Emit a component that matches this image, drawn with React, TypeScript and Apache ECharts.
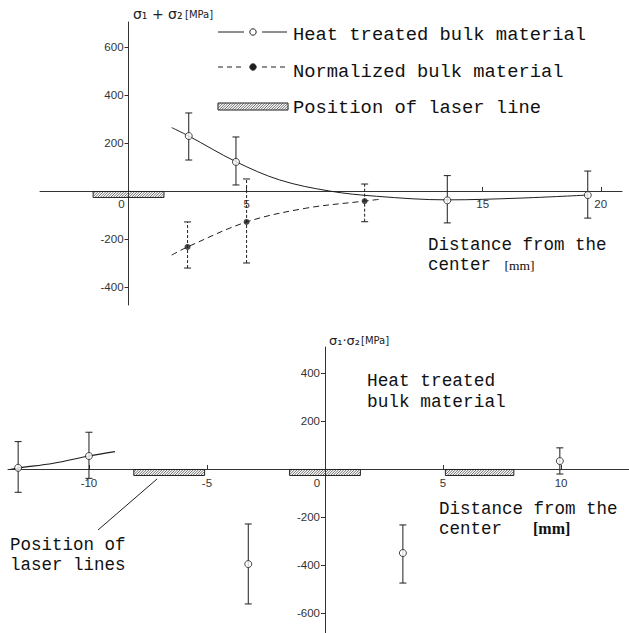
import React, { useEffect, useRef } from 'react';
import * as echarts from 'echarts';

// ---------- Top chart data (distance [mm], sigma1+sigma2 [MPa]) ----------
const topHeatPoints = [[2.55, 229], [4.55, 121], [13.5, -39], [19.45, -17]];
const topHeatErr = [[2.55, 129, 325], [4.55, 25, 225], [13.5, -133, 64], [19.45, -113, 83]];
const topHeatCurve = [[1.83, 264], [2.55, 229], [4.55, 122], [6.4, 46], [8.5, 0], [10.5, -22], [13.5, -37], [16.5, -30], [19.45, -17]];
const topNormPoints = [[2.5, -233], [5, -129], [10, -42]];
const topNormErr = [[2.5, -321, -129], [5, -300, 50], [10, -128, 29]];
const topNormCurve = [[1.83, -267], [2.5, -233], [5, -129], [7.5, -72], [10, -42], [10.6, -35]];
const topLaser = [[-1.5, 1.5]];
const topXLabels = [0, 5, 15, 20];
const topXTicks = [5, 15, 20];
const topYTicks = [600, 400, 200, -200, -400];

// ---------- Bottom chart data ----------
const botPoints = [[-13, 5], [-10, 54], [-3.25, -396], [3.3, -350], [9.95, 33]];
const botErr = [[-13, -97, 114], [-10, -39, 153], [-3.25, -562, -229], [3.3, -475, -233], [9.95, -21, 88]];
const botCurve = [[-13.35, -2], [-13, 4], [-11.5, 24], [-10, 54], [-8.9, 72]];
const botLaser = [[-8.1, -5.1], [-1.5, 1.5], [5.1, 8.0]];
const botXLabels = [-10, -5, 0, 5, 10];
const botXTicks = [-10, -5, 5, 10];
const botYTicks = [400, 200, -200, -400, -600];

const INK = '#1e1e1e';
const AX = '#333';
const TICKFONT = 'Liberation Sans';
const MONO = 'Liberation Mono';

// grid layouts (pixels)
const G1 = { left: 40, top: 22, width: 582, height: 283 };
const G2 = { left: 8, top: 347, width: 621, height: 286 };
const X1 = [-3.75, 20.9];
const Y1 = [-475, 704];
const X2 = [-13.43, 12.88];
const Y2 = [-683, 508];

function hatchLines(x0: number, x1: number, y0: number, h: number, step: number) {
  const out: number[][] = [];
  for (let t = x0 - h; t < x1; t += step) {
    let sx = t, sy = y0 + h, ex = t + h, ey = y0;
    if (sx < x0) { sy = y0 + h - (x0 - sx); sx = x0; }
    if (ex > x1) { ey = y0 + (ex - x1); ex = x1; }
    if (ex > sx) out.push([sx, sy, ex, ey]);
  }
  return out;
}

function hatchRect(x0: number, x1: number, y0: number, h: number) {
  const children: any[] = [
    { type: 'rect', shape: { x: x0, y: y0, width: x1 - x0, height: h }, style: { fill: 'rgba(0,0,0,0)', stroke: INK, lineWidth: 1 } },
  ];
  hatchLines(x0, x1, y0, h, 2.6).forEach(([a, b, c, d]) =>
    children.push({ type: 'line', shape: { x1: a, y1: b, x2: c, y2: d }, style: { stroke: '#444', lineWidth: 0.8 } })
  );
  return children;
}

function errRender(dashed: boolean) {
  return (params: any, api: any) => {
    const x = api.value(0);
    const lo = api.coord([x, api.value(1)]);
    const hi = api.coord([x, api.value(2)]);
    const w = 3.5;
    const st = { stroke: INK, lineWidth: 1, lineDash: dashed ? [3, 2] : null };
    const cap = { stroke: INK, lineWidth: 1 };
    return {
      type: 'group',
      children: [
        { type: 'line', shape: { x1: lo[0], y1: lo[1], x2: hi[0], y2: hi[1] }, style: st },
        { type: 'line', shape: { x1: lo[0] - w, y1: lo[1], x2: lo[0] + w, y2: lo[1] }, style: cap },
        { type: 'line', shape: { x1: hi[0] - w, y1: hi[1], x2: hi[0] + w, y2: hi[1] }, style: cap },
      ],
    };
  };
}

function laserRender(params: any, api: any) {
  const a = api.coord([api.value(0), 0]);
  const b = api.coord([api.value(1), 0]);
  return { type: 'group', children: hatchRect(a[0], b[0], a[1] + 0.5, 6) };
}

// offset that places an axis on the other axis' zero
function xOffset(g: any, yr: number[]) {
  const zeroY = g.top + (yr[1] / (yr[1] - yr[0])) * g.height;
  return -(g.top + g.height - zeroY);
}
function yOffset(g: any, xr: number[]) {
  const zeroX = g.left + (-xr[0] / (xr[1] - xr[0])) * g.width;
  return -(zeroX - g.left);
}

function xAxisCfg(grid: number, g: any, xr: number[], yr: number[], labels: number[], ticks: number[], zeroPad: number, margin: number) {
  return {
    type: 'value', gridIndex: grid, min: xr[0], max: xr[1], position: 'bottom',
    offset: xOffset(g, yr),
    axisLine: { onZero: false, lineStyle: { color: AX, width: 1 } },
    axisTick: { inside: true, length: 4, customValues: ticks, lineStyle: { color: AX } },
    axisLabel: {
      customValues: labels, margin,
      fontFamily: TICKFONT, fontSize: 11.5, color: '#333',
      formatter: (v: number) => (v === 0 ? '{z|0}' : String(v)),
      rich: { z: { fontFamily: TICKFONT, fontSize: 11.5, color: '#333', padding: [0, zeroPad, 0, 0] } },
    },
    splitLine: { show: false },
  };
}

function yAxisCfg(grid: number, g: any, xr: number[], yr: number[], ticks: number[]) {
  return {
    type: 'value', gridIndex: grid, min: yr[0], max: yr[1], position: 'left',
    offset: yOffset(g, xr),
    axisLine: { onZero: false, lineStyle: { color: AX, width: 1 } },
    axisTick: { inside: false, length: 4, customValues: ticks, lineStyle: { color: AX } },
    axisLabel: { customValues: ticks, margin: 5, fontFamily: TICKFONT, fontSize: 11.5, color: '#333' },
    splitLine: { show: false },
  };
}

function txt(text: string, x: number, y: number, size: number, family = MONO, extra: any = {}) {
  return {
    type: 'text', z: 10,
    style: { text, x, y, fontSize: size, fontFamily: family, fill: '#111', verticalAlign: 'middle', textVerticalAlign: 'middle', align: 'left', ...extra },
  };
}

function legendGraphics() {
  const g: any[] = [];
  const line = (x1: number, y1: number, x2: number, y2: number, dash?: number[]) => ({
    type: 'line', z: 10, shape: { x1, y1, x2, y2 }, style: { stroke: INK, lineWidth: 1, lineDash: dash || null },
  });
  // Heat treated
  g.push(line(218, 32, 244, 32));
  g.push(line(262, 32, 287, 32));
  g.push({ type: 'circle', z: 10, shape: { cx: 253, cy: 32, r: 3.2 }, style: { fill: '#fff', stroke: INK, lineWidth: 1 } });
  g.push(txt('Heat treated bulk material', 293, 34.5, 18.8));
  // Normalized
  g.push(line(218, 67, 244, 67, [5, 4]));
  g.push(line(262, 67, 287, 67, [5, 4]));
  g.push({ type: 'circle', z: 10, shape: { cx: 253, cy: 67, r: 3.2 }, style: { fill: INK, stroke: INK, lineWidth: 1 } });
  g.push(txt('Normalized bulk material', 293, 72, 18.8));
  // Laser line
  g.push({ type: 'group', z: 10, children: hatchRect(218, 288, 103, 7) });
  g.push(txt('Position of laser line', 293, 107.5, 18.8));

  // Axis names
  g.push(txt('σ₁ + σ₂', 133, 14, 14, 'DejaVu Sans', { fill: '#222' }));
  g.push(txt('[MPa]', 185, 14, 10, 'DejaVu Sans', { fill: '#222' }));
  g.push(txt('σ₁·σ₂', 329, 340, 13, 'DejaVu Sans', { fill: '#222' }));
  g.push(txt('[MPa]', 361, 340, 10, 'DejaVu Sans', { fill: '#222' }));

  g.push(txt('Distance from the\ncenter {m|[mm]}', 428, 255, 17.5, MONO, {
    lineHeight: 20,
    rich: { m: { fontFamily: 'Liberation Serif', fontSize: 13.5, fill: '#111', padding: [0, 0, 0, 3] } },
  }));

  g.push(txt('Heat treated\nbulk material', 367, 391.5, 17.8, MONO, { lineHeight: 20.5 }));
  g.push(txt('Distance from the\ncenter  {m|[mm]}', 439, 518.5, 17.5, MONO, {
    lineHeight: 20,
    rich: { m: { fontFamily: 'Liberation Serif', fontSize: 16, fontWeight: 'bold', fill: '#111', padding: [0, 0, 0, 10] } },
  }));

  g.push(txt('Position of\nlaser lines', 10, 555, 17.5, MONO, { lineHeight: 20 }));
  g.push(line(98, 530, 157, 479));
  return g;
}

export default function App() {
  const ref = useRef<HTMLDivElement>(null);
  useEffect(() => {
    if (!ref.current) return;
    const chart = echarts.init(ref.current, null, { renderer: 'svg' });
    const openSym = { color: '#fff', borderColor: INK, borderWidth: 1 };
    chart.setOption({
      animation: false,
      backgroundColor: '#fff',
      grid: [G1, G2],
      xAxis: [
        xAxisCfg(0, G1, X1, Y1, topXLabels, topXTicks, 14, 7),
        xAxisCfg(1, G2, X2, Y2, botXLabels, botXTicks, 16, 8),
      ],
      yAxis: [
        yAxisCfg(0, G1, X1, Y1, topYTicks),
        yAxisCfg(1, G2, X2, Y2, botYTicks),
      ],
      graphic: legendGraphics(),
      series: [
        { type: 'custom', xAxisIndex: 0, yAxisIndex: 0, data: topLaser, renderItem: laserRender, z: 1 },
        { type: 'custom', xAxisIndex: 0, yAxisIndex: 0, data: topHeatErr, renderItem: errRender(false) },
        { type: 'custom', xAxisIndex: 0, yAxisIndex: 0, data: topNormErr, renderItem: errRender(true) },
        { type: 'line', xAxisIndex: 0, yAxisIndex: 0, data: topHeatCurve, smooth: 0.35, showSymbol: false, symbol: 'none', lineStyle: { color: INK, width: 1 } },
        { type: 'line', xAxisIndex: 0, yAxisIndex: 0, data: topNormCurve, smooth: 0.35, showSymbol: false, symbol: 'none', lineStyle: { color: INK, width: 1, type: [6, 4] } },
        { type: 'scatter', xAxisIndex: 0, yAxisIndex: 0, data: topHeatPoints, symbol: 'circle', symbolSize: 7, itemStyle: openSym, z: 5 },
        { type: 'scatter', xAxisIndex: 0, yAxisIndex: 0, data: topNormPoints, symbol: 'circle', symbolSize: 6, itemStyle: { color: INK }, z: 5 },

        { type: 'custom', xAxisIndex: 1, yAxisIndex: 1, data: botLaser, renderItem: laserRender, z: 1 },
        { type: 'custom', xAxisIndex: 1, yAxisIndex: 1, data: botErr, renderItem: errRender(false) },
        { type: 'line', xAxisIndex: 1, yAxisIndex: 1, data: botCurve, smooth: 0.35, showSymbol: false, symbol: 'none', lineStyle: { color: INK, width: 1.2 } },
        { type: 'scatter', xAxisIndex: 1, yAxisIndex: 1, data: botPoints, symbol: 'circle', symbolSize: 7, itemStyle: openSym, z: 5 },
      ],
    });
    return () => chart.dispose();
  }, []);
  return <div ref={ref} style={{ position: 'absolute', left: 0, top: 0, width: 629, height: 633 }} />;
}
